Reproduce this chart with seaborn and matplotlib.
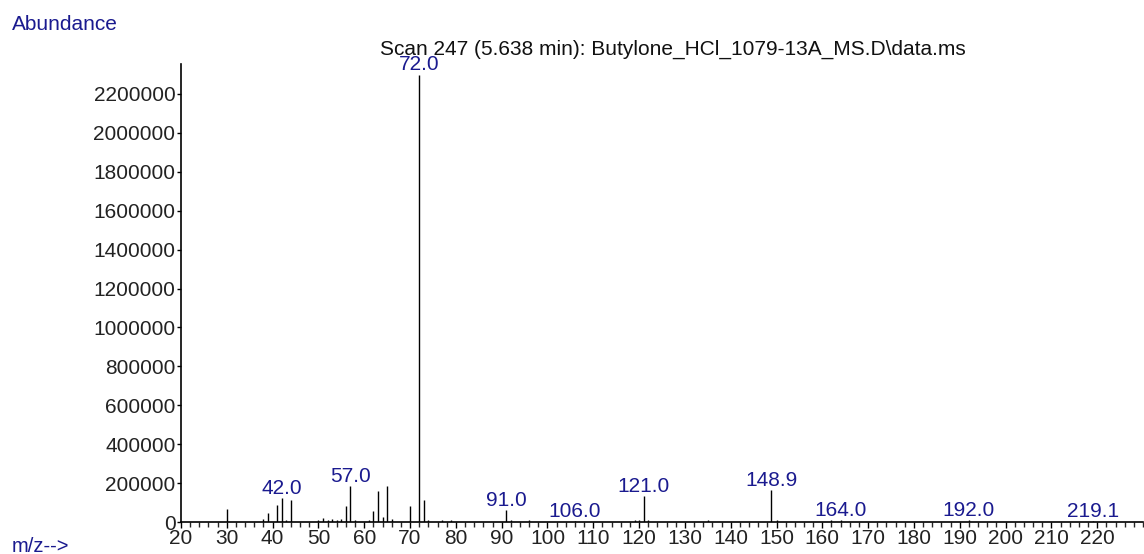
import numpy as np
import pandas as pd
import matplotlib
matplotlib.use("Agg")
import matplotlib.pyplot as plt
import seaborn as sns
from matplotlib.ticker import MultipleLocator

# -----------------------------
# Data
# -----------------------------
mz = [30, 38, 39, 41, 42, 43, 44, 50, 51, 52, 53, 54, 55, 56, 57, 58,
      61, 62, 63, 64, 65, 66, 70, 72, 73, 74, 77, 79, 91, 92, 96, 106,
      119, 120, 121, 122, 135, 148.9, 150, 162, 164, 192, 219.1]
abundance = [69000, 15000, 48000, 87000, 125000, 10000, 113000, 8000, 20000,
             10000, 17000, 10000, 15000, 82000, 185000, 10000,
             10000, 57000, 158000, 24000, 185000, 15000, 82000, 2300000,
             113000, 12000, 8000, 8000, 63000, 10000, 8000, 6000,
             12000, 10000, 134000, 8000, 8000, 165000, 8000, 10000, 10000,
             10000, 4000]

label_mz = [42.0, 57.0, 72.0, 91.0, 106.0, 121.0, 148.9, 164.0, 192.0, 219.1]
label_text = ["42.0", "57.0", "72.0", "91.0", "106.0", "121.0", "148.9",
              "164.0", "192.0", "219.1"]

y_ticks = list(range(0, 2200001, 200000))
x_ticks = list(range(20, 221, 10))

title = r"Scan 247 (5.638 min): Butylone_HCl_1079-13A_MS.D\data.ms"

spec = pd.DataFrame({"mz": mz, "abundance": abundance})

# -----------------------------
# Style
# -----------------------------
sns.set_style("ticks")
plt.rcParams["font.family"] = ["Liberation Sans", "DejaVu Sans"]

W, H = 1144, 554
fig = plt.figure(figsize=(W / 100, H / 100), dpi=100)
ax = fig.add_axes([181 / W, 1 - 522 / H, (1143 - 181) / W, (522 - 64) / H])

# stems
ax.vlines(spec["mz"], 0, spec["abundance"], color="black", linewidth=1.0)

ax.set_xlim(20, 230)
ax.set_ylim(0, 2354000)

navy = "#1a1a8f"
lookup = dict(zip(spec["mz"], spec["abundance"]))
for m, t in zip(label_mz, label_text):
    ax.annotate(t, (m, lookup.get(m, 0)), xytext=(0, 3),
                textcoords="offset points", ha="center", va="baseline",
                fontsize=15, color=navy)

ax.set_yticks(y_ticks)
ax.set_yticklabels([str(v) for v in y_ticks])
ax.set_xticks(x_ticks)
ax.set_xticklabels([str(v) for v in x_ticks])
ax.xaxis.set_minor_locator(MultipleLocator(2))

ax.tick_params(axis="y", direction="out", length=3, width=1, pad=1,
               labelsize=15, colors="black", labelcolor="#222222")
ax.tick_params(axis="x", which="major", direction="out", length=4.5, width=1,
               pad=0.5, labelsize=15, colors="black", labelcolor="#222222")
ax.tick_params(axis="x", which="minor", direction="out", length=3.5, width=1)

sns.despine(ax=ax)
for s in ["left", "bottom"]:
    ax.spines[s].set_linewidth(1.2)
    ax.spines[s].set_color("black")

fig.text(12 / W, 1 - 25 / H, "Abundance", fontsize=15, color=navy,
         ha="left", va="center")
fig.text(12 / W, 1 - 546 / H, "m/z-->", fontsize=14.5, color=navy,
         ha="left", va="center")
fig.text(673 / W, 1 - 49 / H, title, fontsize=15, color="#111111",
         ha="center", va="center", zorder=0)

fig.savefig("out.png", dpi=100)
plt.close(fig)
